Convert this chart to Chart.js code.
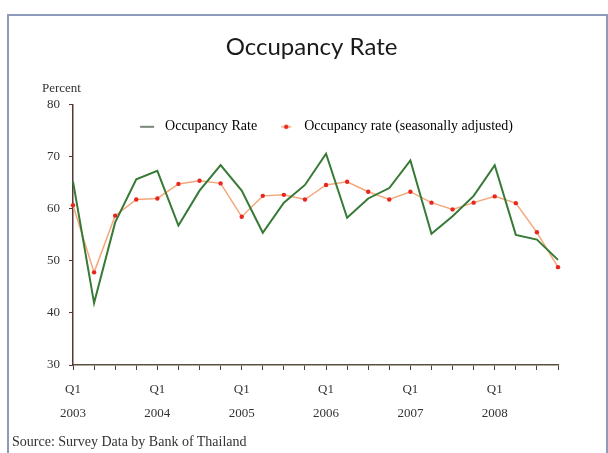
<!DOCTYPE html>
<html>
<head>
<meta charset="utf-8">
<script src="https://cdn.jsdelivr.net/npm/chart.js@4"></script>
<style>
  html, body { margin: 0; padding: 0; background: #ffffff; }
  #wrap { position: relative; width: 608px; height: 453px; overflow: hidden; }
  #frame { position: absolute; left: 7px; top: 14px; width: 597px; height: 460px; border: 2px solid #8d9abb; }
  #chart { position: absolute; left: 0; top: 0; }
  .note { position: absolute; font-family: "Liberation Serif", serif; color: #333; white-space: nowrap; }
  #percent { left: 42px; top: 80px; font-size: 13px; }
  #source { left: 12px; top: 434px; font-size: 14px; }
</style>
</head>
<body>
<div id="wrap">
  <div id="frame"></div>
  <canvas id="chart" width="608" height="453"></canvas>
  <div class="note" id="percent">Percent</div>
  <div class="note" id="source">Source: Survey Data by Bank of Thailand</div>
</div>
<script>
// quarters 2003Q1 .. 2008Q4
const quarters = ["Q1", "Q2", "Q3", "Q4"];
const years = ["2003", "2004", "2005", "2006", "2007", "2008"];

// Occupancy rate (percent)
const occupancyRate = [
  65.3, 41.9, 57.4, 65.7,
  67.3, 56.8, 63.5, 68.4,
  63.5, 55.4, 61.2, 64.6,
  70.6, 58.3, 62.0, 64.0,
  69.3, 55.2, 58.6, 62.5,
  68.4, 55.0, 54.1, 50.2
];

// Occupancy rate, seasonally adjusted
const occupancySA = [
  60.7, 47.8, 58.7, 61.8,
  62.0, 64.8, 65.4, 64.9,
  58.5, 62.5, 62.7, 61.8,
  64.6, 65.2, 63.3, 61.8,
  63.3, 61.2, 59.9, 61.2,
  62.4, 61.1, 55.5, 48.8
];

const yTicks = { min: 30, max: 80, step: 10 };

// one label per quarter, only Q1 gets text
let labels = [];
years.forEach((yr) => {
  quarters.forEach((q) => {
    labels.push(q === "Q1" ? [q, yr] : ["", ""]);
  });
});

// little legend markers
function makeMarker(withDot) {
  const c = document.createElement("canvas");
  c.width = 16;
  c.height = 8;
  const g = c.getContext("2d");
  g.strokeStyle = withDot ? "#f5a77a" : "#4d5f4d";
  g.lineWidth = 1.5;
  g.beginPath();
  g.moveTo(withDot ? 3 : 1, 4);
  g.lineTo(withDot ? 13 : 15, 4);
  g.stroke();
  if (withDot) {
    g.fillStyle = "#e8261e";
    g.beginPath();
    g.arc(8, 4, 2.2, 0, Math.PI * 2);
    g.fill();
  }
  return c;
}
const markers = [makeMarker(false), makeMarker(true)];

// legend sits inside the plot in the original, title a bit to the right
const boxShift = {
  id: "boxShift",
  afterLayout(chart) {
    const l = chart.legend;
    l.top += 39;
    l.bottom += 39;
    l.left += 24;
    l.right += 24;
    const t = chart.titleBlock;
    t.left += 11;
    t.right += 11;
  }
};

const serif = "'Liberation Serif', 'Times New Roman', serif";

const ctx = document.getElementById("chart").getContext("2d");
new Chart(ctx, {
  type: "line",
  data: {
    labels: labels,
    datasets: [
      {
        label: "Occupancy Rate",
        data: occupancyRate,
        borderColor: "#367a36",
        borderWidth: 2,
        pointRadius: 0,
        tension: 0
      },
      {
        label: "Occupancy rate (seasonally adjusted)",
        data: occupancySA,
        borderColor: "#f5a77a",
        borderWidth: 1.5,
        pointRadius: 2.2,
        pointBackgroundColor: "#e8261e",
        pointBorderWidth: 0,
        tension: 0
      }
    ]
  },
  options: {
    responsive: false,
    animation: false,
    layout: { padding: { left: 43, right: 50, top: 0, bottom: 0 } },
    plugins: {
      tooltip: { enabled: false },
      title: {
        display: true,
        text: "Occupancy Rate",
        color: "#1a1a1a",
        font: { family: "Lato, 'Noto Sans', sans-serif", size: 24, weight: "normal" },
        padding: { top: 33, bottom: 1 }
      },
      legend: {
        position: "top",
        labels: {
          usePointStyle: true,
          pointStyleWidth: 22,
          padding: 18,
          color: "#333",
          font: { family: serif, size: 14 },
          generateLabels(chart) {
            return chart.data.datasets.map((ds, i) => ({
              text: ds.label,
              pointStyle: markers[i],
              fillStyle: ds.borderColor,
              strokeStyle: ds.borderColor,
              lineWidth: 0,
              hidden: false,
              datasetIndex: i
            }));
          }
        }
      }
    },
    scales: {
      x: {
        offset: false,
        afterFit(scale) {
          scale.height = 88;
        },
        grid: {
          display: true,
          drawOnChartArea: false,
          drawTicks: true,
          tickLength: 5,
          color: "#4a4038"
        },
        border: { display: true, color: "#5a5040", width: 1.5 },
        ticks: {
          autoSkip: false,
          maxRotation: 0,
          padding: 8,
          color: "#333",
          font: { family: serif, size: 13, lineHeight: 1.85 }
        }
      },
      y: {
        min: yTicks.min,
        max: yTicks.max,
        afterFit(scale) {
          scale.width = 30;
        },
        grid: {
          display: true,
          drawOnChartArea: false,
          drawTicks: true,
          tickLength: 4,
          color: "#5b3636"
        },
        border: { display: true, color: "#5b3636", width: 1.5 },
        ticks: {
          stepSize: yTicks.step,
          padding: 9,
          color: "#333",
          font: { family: serif, size: 13 }
        }
      }
    }
  },
  plugins: [boxShift]
});
</script>
</body>
</html>
